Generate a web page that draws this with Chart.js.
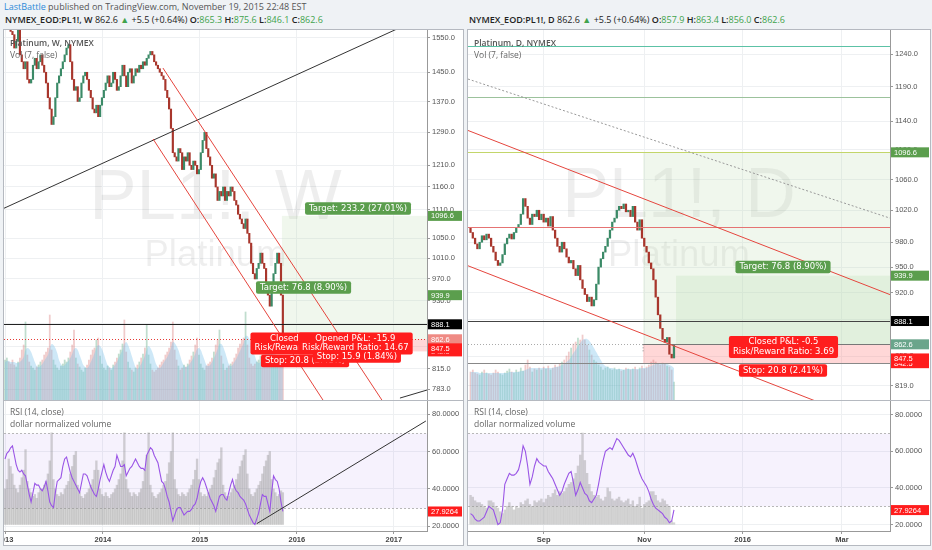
<!DOCTYPE html>
<html lang="en">
<head>
<meta charset="UTF-8">
<title>Platinum PL1! - W / D</title>
<script src="https://cdn.jsdelivr.net/npm/chart.js@4.4.1/dist/chart.umd.min.js"></script>
<style>
    * { margin: 0; padding: 0; box-sizing: border-box; }
    body { width: 932px; height: 550px; background: #eff2f5; position: relative; overflow: hidden; font-family: "Open Sans", sans-serif; }
    .hdr { position: absolute; left: 4px; top: 1px; font-size: 9px; line-height: 12px; color: #555; white-space: nowrap; }
    .hdr .who { color: #2d8ad8; }
    .sym { position: absolute; top: 14px; font-size: 9px; line-height: 12px; font-weight: 600; color: #222; white-space: nowrap; }
    .sym span { font-weight: 400; }
    .sym .g { color: #3fa34d; }
    .panel { position: absolute; top: 29px; height: 517px; border: 1px solid #b5b9c0; background: #fff; }
    .panel canvas { position: absolute; left: 0; }
    .sep { position: absolute; left: 0; right: 0; top: 370px; height: 1px; background: #b5b9c0; }
    .leg { position: absolute; left: 6px; font-size: 8.5px; line-height: 11px; color: #666; white-space: nowrap; z-index: 2; }
    .leg b { font-weight: 600; color: #555; }
</style>
</head>
<body>
    <div class="hdr"><span class="who">LastBattle</span> published on TradingView.com, November 19, 2015 22:48 EST</div>
    <div class="sym" style="left:5px">NYMEX_EOD:PL1!, W <span>862.6</span> <span class="g">▲</span> <span>+5.5 (+0.64%)</span> O:<span class="g">865.3</span> H:<span class="g">875.6</span> L:<span class="g">846.1</span> C:<span class="g">862.6</span></div>
    <div class="sym" style="left:469px">NYMEX_EOD:PL1!, D <span>862.6</span> <span class="g">▲</span> <span>+5.5 (+0.64%)</span> O:<span class="g">857.9</span> H:<span class="g">863.4</span> L:<span class="g">856.0</span> C:<span class="g">862.6</span></div>

    <div class="panel" style="left:3px; width:461px">
        <canvas id="wPrice" width="459" height="370" style="top:0"></canvas>
        <div class="sep"></div>
        <canvas id="wRsi" width="459" height="144" style="top:371px"></canvas>
        <div class="leg" style="top:7px"><b>Platinum, W, NYMEX</b></div>
        <div class="leg" style="top:19px">Vol (7, false)</div>
        <div class="leg" style="top:376px">RSI (14, close)</div>
        <div class="leg" style="top:388px">dollar normalized volume</div>
    </div>

    <div class="panel" style="left:467px; width:464px">
        <canvas id="dPrice" width="462" height="370" style="top:0"></canvas>
        <div class="sep"></div>
        <canvas id="dRsi" width="462" height="144" style="top:371px"></canvas>
        <div class="leg" style="top:7px"><b>Platinum, D, NYMEX</b></div>
        <div class="leg" style="top:19px">Vol (7, false)</div>
        <div class="leg" style="top:376px">RSI (14, close)</div>
        <div class="leg" style="top:388px">dollar normalized volume</div>
    </div>

<script>
// ---------- weekly (left), bar index = week from Jan 2013 ----------
const weekFirstOpen = 1590;
const weekClose = [
    1610, 1640, 1600, 1570, 1560, 1520, 1540, 1580, 1500, 1480,
    1460, 1480, 1430, 1420, 1430, 1470, 1490, 1460, 1480, 1500,
    1470, 1450, 1420, 1380, 1350, 1310, 1330, 1380, 1420, 1440,
    1460, 1480, 1500, 1520, 1530, 1480, 1430, 1400, 1410, 1370,
    1380, 1420, 1440, 1450, 1430, 1400, 1380, 1350, 1340, 1360,
    1330, 1360, 1380, 1400, 1420, 1440, 1410, 1420, 1450, 1430,
    1400, 1410, 1440, 1470, 1440, 1410, 1450, 1460, 1420, 1440,
    1460, 1450, 1470, 1460, 1480, 1470, 1490, 1500, 1510, 1500,
    1480, 1470, 1460, 1450, 1440, 1430, 1400, 1380, 1350, 1300,
    1240, 1230, 1220, 1250, 1240, 1200, 1230, 1220, 1240, 1210,
    1200, 1220, 1210, 1190, 1200, 1240, 1270, 1290, 1250, 1230,
    1210, 1180, 1190, 1160, 1130, 1150, 1140, 1160, 1130, 1150,
    1140, 1160, 1150, 1130, 1120, 1100, 1090, 1080, 1070, 1090,
    1060, 1040, 1000, 980, 970, 990, 1000, 1020, 1000, 990,
    960, 940, 920, 950, 980, 1000, 1020, 1000, 940, 862.6
];
const weekVolume = [
    40, 42, 38, 36, 40, 35, 33, 38, 42, 50,
    55, 78, 45, 38, 34, 32, 30, 33, 35, 38,
    40, 45, 48, 52, 85, 50, 40, 35, 32, 30,
    34, 36, 40, 38, 42, 48, 55, 70, 42, 36,
    33, 30, 28, 32, 35, 40, 45, 50, 52, 60,
    62, 44, 36, 32, 30, 34, 32, 30, 35, 38,
    42, 46, 50, 56, 80, 48, 38, 32, 30, 28,
    32, 35, 38, 42, 46, 52, 75, 45, 36, 30,
    28, 30, 32, 35, 38, 40, 45, 48, 52, 58,
    78, 50, 40, 34, 30, 32, 35, 33, 36, 40,
    44, 48, 55, 62, 45, 36, 32, 30, 34, 36,
    38, 42, 48, 55, 60, 70, 44, 36, 30, 32,
    34, 36, 38, 42, 46, 52, 56, 60, 62, 88,
    55, 42, 36, 34, 36, 38, 40, 44, 46, 50,
    52, 55, 60, 48, 40, 36, 38, 40, 42, 44
];
// Vol (7) average line
const weekVolMa = [
    38, 39, 39, 38, 38, 38, 37, 37, 38, 40,
    43, 50, 52, 51, 48, 43, 38, 34, 33, 34,
    36, 39, 42, 45, 52, 56, 55, 52, 47, 40,
    36, 34, 35, 37, 39, 42, 46, 51, 52, 50,
    45, 40, 35, 33, 32, 34, 38, 42, 47, 52,
    55, 54, 51, 46, 40, 35, 33, 32, 33, 35,
    38, 42, 46, 50, 56, 58, 55, 50, 44, 38,
    33, 31, 33, 36, 40, 44, 50, 54, 52, 48,
    42, 36, 33, 32, 34, 37, 40, 43, 47, 52,
    58, 57, 54, 50, 44, 38, 34, 33, 34, 36,
    39, 42, 46, 51, 52, 50, 45, 40, 35, 34,
    35, 38, 42, 46, 51, 56, 56, 53, 48, 42,
    36, 34, 35, 38, 41, 45, 49, 53, 57, 64,
    64, 61, 56, 50, 44, 39, 37, 38, 41, 44,
    47, 50, 54, 53, 50, 46, 42, 40, 40, 41
];
const weekRsi = [
    56, 59, 60, 62, 63, 58, 53, 50, 49, 50,
    48, 47, 42, 37, 33, 38, 43, 42, 42, 40,
    39, 41, 44, 39, 33, 31, 30, 38, 44, 45,
    46, 52, 56, 57, 53, 49, 46, 44, 42, 40,
    38, 43, 48, 48, 47, 44, 41, 39, 37, 36,
    40, 45, 49, 53, 49, 46, 44, 47, 50, 52,
    58, 55, 52, 52, 53, 47, 49, 51, 52, 54,
    56, 54, 52, 51, 51, 50, 58, 60, 62, 61,
    58, 56, 54, 49, 44, 43, 40, 36, 33, 28,
    23, 26, 29, 30, 30, 28, 26, 27, 28, 28,
    29, 31, 32, 35, 40, 44, 46, 44, 41, 38,
    35, 33, 31, 28, 32, 36, 37, 37, 35, 34,
    38, 42, 45, 41, 39, 38, 36, 35, 34, 32,
    29, 26, 24, 22, 21, 24, 27, 32, 37, 36,
    36, 32, 28, 38, 47, 45, 44, 40, 33, 28
];
const weekDollarVol = [
    40, 45, 56, 52, 48, 42, 40, 38, 42, 46,
    50, 61, 44, 40, 38, 36, 37, 35, 38, 40,
    40, 42, 44, 48, 55, 70, 45, 40, 37, 36,
    38, 37, 40, 42, 44, 48, 52, 58, 60, 42,
    38, 36, 35, 37, 38, 40, 42, 45, 50, 55,
    50, 40, 37, 36, 38, 36, 35, 37, 38, 40,
    42, 45, 48, 55, 70, 45, 40, 38, 36, 38,
    37, 36, 38, 40, 44, 50, 58, 70, 42, 38,
    36, 35, 37, 38, 40, 42, 44, 48, 54, 60,
    70, 45, 40, 37, 36, 38, 37, 36, 38, 40,
    42, 45, 50, 56, 45, 38, 36, 37, 36, 38,
    40, 42, 46, 50, 54, 56, 62, 42, 38, 36,
    36, 38, 40, 42, 45, 48, 52, 55, 58, 61,
    48, 40, 37, 36, 38, 40, 42, 44, 48, 52,
    55, 58, 60, 45, 40, 38, 36, 37, 39, 38
];
const weekPriceTicks = [1550, 1450, 1370, 1290, 1210, 1160, 1110, 1050, 1010, 970, 930, 890, 850, 815, 783];
const weekTimeTicks = [0, 52.5, 104.5, 156.5, 208.5];
const weekTimeLabels = ['2013', '2014', '2015', '2016', '2017'];

// ---------- daily (right), bar index = trading day from Jul 17 2015 ----------
const dayFirstOpen = 998;
const dayClose = [
    992, 985, 978, 972, 980, 988, 983, 990, 985, 975,
    968, 958, 952, 955, 965, 978, 985, 990, 984, 992,
    998, 1002, 1015, 1035, 1025, 1010, 1002, 1015, 1012, 1020,
    1008, 1015, 1005, 1010, 1000, 1012, 995, 985, 975, 968,
    980, 972, 962, 955, 958, 948, 940, 952, 935, 925,
    918, 910, 915, 905, 912, 930, 950, 960, 968, 975,
    985, 995, 1005, 1010, 1020, 1025, 1022, 1028, 1018, 1020,
    1012, 1025, 1005, 995, 1008, 985, 975, 968, 955, 948,
    935, 915, 895, 880, 868, 865, 870, 852, 848, 862.6
];
const dayVolume = [
    28, 30, 27, 26, 25, 28, 30, 27, 26, 25,
    27, 30, 28, 26, 25, 27, 29, 31, 28, 27,
    30, 28, 32, 29, 35, 40, 33, 28, 31, 30,
    32, 30, 33, 31, 34, 30, 32, 35, 33, 36,
    38, 40, 44, 48, 52, 56, 58, 62, 60, 65,
    60, 55, 50, 45, 40, 38, 35, 33, 30, 32,
    33, 31, 30, 32, 30, 31, 29, 30, 32, 31,
    30, 31, 33, 30, 32, 34, 31, 33, 35, 38,
    40, 38, 36, 35, 37, 36, 34, 33, 30, 18
];
const dayVolMa = [
    28, 28, 28, 28, 27, 27, 27, 27, 27, 27,
    27, 27, 27, 27, 27, 27, 27, 28, 28, 28,
    28, 28, 29, 29, 30, 31, 32, 32, 32, 32,
    32, 32, 32, 32, 32, 32, 32, 33, 33, 34,
    35, 36, 38, 40, 43, 47, 50, 54, 57, 60,
    61, 61, 59, 56, 52, 48, 44, 40, 36, 34,
    33, 32, 32, 31, 31, 31, 31, 30, 31, 31,
    31, 31, 31, 31, 31, 32, 32, 32, 33, 34,
    35, 36, 36, 36, 36, 36, 36, 35, 34, 32
];
const dayRsi = [
    26, 25, 23, 22, 22, 23, 24, 27, 30, 29,
    28, 24, 20, 21, 28, 42, 45, 48, 47, 47,
    48, 50, 55, 63, 60, 52, 42, 46, 52, 56,
    54, 53, 52, 52, 49, 47, 45, 42, 39, 36,
    38, 42, 45, 48, 49, 43, 36, 39, 43, 40,
    37, 36, 33, 32, 34, 36, 42, 49, 55, 60,
    61, 62, 61, 64, 67, 66, 64, 62, 60, 58,
    57, 59, 56, 52, 48, 45, 43, 41, 38, 34,
    31, 29, 28, 27, 26, 24, 23, 21, 22, 28
];
const dayDollarVol = [
    36, 35, 33, 32, 32, 31, 30, 29, 33, 33,
    32, 30, 29, 27, 26, 28, 30, 32, 30, 28,
    30, 29, 32, 31, 33, 34, 31, 30, 33, 32,
    33, 34, 32, 34, 36, 35, 37, 39, 36, 38,
    37, 38, 40, 42, 43, 45, 48, 52, 58, 70,
    55, 48, 42, 38, 36, 35, 36, 34, 33, 35,
    40, 38, 34, 33, 34, 35, 33, 32, 33, 34,
    31, 33, 30, 31, 35, 29, 31, 32, 33, 38,
    38, 36, 33, 32, 34, 33, 31, 30, 22, 21
];
const dayPriceTicks = [1240, 1190, 1140, 1100, 1060, 1020, 980, 950, 920, 890, 850, 819];
const dayTimeTicks = [32, 76, 119, 162.5];
const dayTimeLabels = ['Sep', 'Nov', '2016', 'Mar'];

const rsiTicks = [20, 40, 60, 80];
const rsiLast = 27.9264;

// position tool levels
const entryPrice = 862.6;
const avgPrice = 888.1;
const targetBig = 1096.6;
const targetSmall = 939.9;
const stopNear = 847.5;
const stopFar = 842.5;

// drawings, endpoints as [bar index, price]
const weekBlackLines = [[[-0.54, 1113], [226.3, 1620]], [[211.8, 769.4], [226.3, 781.5]]];
const weekRedLines = [[[84.7, 1462], [202.1, 766.5]], [[79.4, 1273.5], [170.5, 766.5]]];
const weekRsiLine = [[134.96, 21.4], [225.7, 76.3]];
const dayRedLines = [[[-1.1, 1127], [183.5, 917.9]], [[-1.1, 951.6], [183.5, 775]]];
const dayGreyDotted = [[-1.1, 1201.8], [183.5, 1010]];
const dayLevels = [1252.5, 1175.1, 999.1];

const UP = '#3b8a67', DOWN = '#a8362c';
const AXIS_FONT = { family: 'Liberation Sans', size: 7.5 };

function candles(firstOpen, closes) {
    const pts = [], colors = [], volColors = [];
    closes.forEach((c, i) => {
        const o = i ? closes[i - 1] : firstOpen;
        pts.push({ x: i, y: [o, c] });
        colors.push(c >= o ? UP : DOWN);
        volColors.push(c >= o ? 'rgba(59,150,103,0.32)' : 'rgba(200,70,70,0.28)');
    });
    return { pts, colors, volColors };
}

function P(chart, xv, yv) {
    return [chart.scales.x.getPixelForValue(xv), chart.scales.y.getPixelForValue(yv)];
}

function drawLabel(ctx, cx, cy, lines, bg) {
    ctx.font = '8.5px "DejaVu Sans"';
    const w = Math.max(...lines.map(l => ctx.measureText(l).width)) + 8;
    const lh = 9.5, h = lines.length * lh + 3;
    ctx.fillStyle = bg;
    ctx.beginPath();
    ctx.roundRect(cx - w / 2, cy - h / 2, w, h, 2);
    ctx.fill();
    ctx.fillStyle = '#fff';
    ctx.textAlign = 'center';
    ctx.textBaseline = 'middle';
    lines.forEach((l, i) => ctx.fillText(l, cx, cy - h / 2 + 1.5 + lh * (i + 0.5)));
}

function overlay(cfg) {
    return {
        id: 'overlay',
        beforeDatasetsDraw(chart) {
            const { ctx, chartArea: a } = chart;
            ctx.save();
            ctx.beginPath();
            ctx.rect(a.left, a.top, a.width, a.height);
            ctx.clip();
            (cfg.marks || []).forEach(m => {
                ctx.fillStyle = 'rgba(0,0,0,0.065)';
                ctx.font = m.size + 'px "Liberation Sans"';
                ctx.textAlign = 'center';
                ctx.textBaseline = 'alphabetic';
                ctx.fillText(m.text, (a.left + a.right) / 2, a.top + m.base);
            });
            (cfg.boxes || []).forEach(b => {
                const [x0, y0] = P(chart, b.x0, b.y0);
                const y1 = chart.scales.y.getPixelForValue(b.y1);
                ctx.fillStyle = b.color;
                ctx.fillRect(x0, Math.min(y0, y1), a.right - x0, Math.abs(y1 - y0));
            });
            ctx.restore();
        },
        afterDatasetsDraw(chart) {
            const { ctx, chartArea: a } = chart;
            ctx.save();
            ctx.beginPath();
            ctx.rect(a.left, a.top, a.width, a.height);
            ctx.clip();
            (cfg.levels || []).forEach(l => {
                const yy = Math.round(chart.scales.y.getPixelForValue(l.v)) + 0.5;
                const x0 = l.from == null ? a.left : chart.scales.x.getPixelForValue(l.from);
                ctx.strokeStyle = l.color;
                ctx.lineWidth = l.width || 1;
                ctx.setLineDash(l.dash || []);
                ctx.beginPath();
                ctx.moveTo(x0, yy);
                ctx.lineTo(a.right, yy);
                ctx.stroke();
            });
            (cfg.lines || []).forEach(l => {
                const p0 = P(chart, l.pts[0][0], l.pts[0][1]);
                const p1 = P(chart, l.pts[1][0], l.pts[1][1]);
                ctx.strokeStyle = l.color;
                ctx.lineWidth = l.width || 1;
                ctx.setLineDash(l.dash || []);
                ctx.beginPath();
                ctx.moveTo(p0[0], p0[1]);
                ctx.lineTo(p1[0], p1[1]);
                ctx.stroke();
            });
            ctx.setLineDash([]);
            ctx.restore();
            (cfg.labels || []).forEach(l => {
                const [cx, cy] = P(chart, l.x, l.y);
                drawLabel(ctx, cx, cy, l.text, l.bg);
            });
        },
        afterDraw(chart) {
            const { ctx, chartArea: a } = chart;
            (cfg.tags || []).forEach(t => {
                const yy = chart.scales.y.getPixelForValue(t.v);
                ctx.fillStyle = t.bg;
                ctx.fillRect(a.right + 1, yy - 5, chart.width - a.right - 2, 10);
                ctx.fillStyle = '#fff';
                ctx.font = '7.5px "Liberation Sans"';
                ctx.textAlign = 'left';
                ctx.textBaseline = 'middle';
                ctx.fillText(t.text, a.right + 4, yy + 0.5);
            });
        }
    };
}

function xScale(min, max, ticks, labels, showLabels) {
    return {
        type: 'linear', min, max, offset: false, bounds: 'data',
        afterBuildTicks: s => { s.ticks = ticks.map(v => ({ value: v })); },
        ticks: {
            display: showLabels, autoSkip: false, maxRotation: 0, padding: 1,
            color: '#444', font: { ...AXIS_FONT, weight: 'bold' },
            callback: (v, i) => labels[i]
        },
        grid: { color: '#eef0f2', offset: false, drawTicks: showLabels, tickLength: 3, tickColor: '#999' },
        border: { display: showLabels, color: '#999' },
        afterFit: s => { s.height = showLabels ? 14 : 0; s.paddingLeft = 0; s.paddingRight = 0; }
    };
}

function yScale(type, min, max, ticks, width, digits) {
    return {
        type, position: 'right', min, max, bounds: 'data',
        afterBuildTicks: s => { s.ticks = ticks.map(v => ({ value: v })); },
        ticks: { autoSkip: false, padding: 2, color: '#555', font: AXIS_FONT, callback: v => Number(v).toFixed(digits) },
        grid: { color: '#eef0f2', tickLength: 3, tickColor: '#999' },
        border: { color: '#999' },
        afterFit: s => { s.width = width; s.paddingTop = 0; s.paddingBottom = 0; }
    };
}

function priceChart(id, o) {
    const c = candles(o.firstOpen, o.closes);
    new Chart(document.getElementById(id), {
        type: 'bar',
        data: {
            datasets: [{
                data: c.pts, backgroundColor: c.colors, yAxisID: 'y',
                grouped: false, barThickness: o.barW, minBarLength: 1
            }, {
                type: 'line', yAxisID: 'v',
                data: o.volMa.map((v, i) => ({ x: i, y: v })),
                borderWidth: 0, pointRadius: 0, tension: 0.4,
                fill: 'origin', backgroundColor: 'rgba(125,195,235,0.38)'
            }, {
                data: o.volume.map((v, i) => ({ x: i, y: v })),
                backgroundColor: c.volColors, yAxisID: 'v',
                grouped: false, barThickness: 1.1
            }]
        },
        options: {
            responsive: false, animation: false, events: [],
            layout: { padding: 0 },
            plugins: { legend: { display: false }, tooltip: { enabled: false } },
            scales: {
                x: xScale(o.xMin, o.xMax, o.timeTicks, o.timeLabels, false),
                y: yScale('logarithmic', o.yMin, o.yMax, o.priceTicks, o.axisW, 1),
                v: { type: 'linear', display: false, min: 0, max: 370 }
            }
        },
        plugins: [overlay(o.overlay)]
    });
}

function rsiChart(id, o) {
    new Chart(document.getElementById(id), {
        type: 'bar',
        data: {
            datasets: [{
                type: 'line',
                data: o.rsi.map((v, i) => ({ x: i, y: v })),
                borderColor: '#9a55e6', borderWidth: 1.1, pointRadius: 0, tension: 0
            }, {
                data: o.dollarVol.map((v, i) => ({ x: i, y: [o.base, v] })),
                backgroundColor: 'rgba(150,150,150,0.42)', grouped: false, barThickness: o.barW + 0.2
            }]
        },
        options: {
            responsive: false, animation: false, events: [],
            layout: { padding: 0 },
            plugins: { legend: { display: false }, tooltip: { enabled: false } },
            scales: {
                x: xScale(o.xMin, o.xMax, o.timeTicks, o.timeLabels, true),
                y: yScale('linear', o.yMin, o.yMax, rsiTicks, o.axisW, 4)
            }
        },
        plugins: [{
            id: 'band',
            beforeDatasetsDraw(chart) {
                const { ctx, chartArea: a, scales: { y } } = chart;
                const y70 = Math.round(y.getPixelForValue(70)) + 0.5, y30 = Math.round(y.getPixelForValue(30)) + 0.5;
                ctx.save();
                ctx.fillStyle = 'rgba(160,110,235,0.09)';
                ctx.fillRect(a.left, y70, a.width, y30 - y70);
                ctx.strokeStyle = '#b8b8b8';
                ctx.setLineDash([2, 2]);
                [y70, y30].forEach(yy => { ctx.beginPath(); ctx.moveTo(a.left, yy); ctx.lineTo(a.right, yy); ctx.stroke(); });
                ctx.restore();
            }
        }, overlay(o.overlay)]
    });
}

const GREEN_BOX = 'rgba(185,220,175,0.22)';
const PINK_BOX = 'rgba(255,130,130,0.32)';
const GREEN_TAG = '#5b9e4d';
const RED = '#ff1d1d';

// ---------- left: weekly ----------
const wX = { xMin: -0.54, xMax: 226.3, timeTicks: weekTimeTicks, timeLabels: weekTimeLabels, axisW: 36, barW: 1.5 };
priceChart('wPrice', {
    ...wX, firstOpen: weekFirstOpen, closes: weekClose, volume: weekVolume, volMa: weekVolMa,
    yMin: 766.5, yMax: 1574.3, priceTicks: weekPriceTicks,
    overlay: {
        marks: [{ text: 'PL1!, W', size: 71, base: 189 }, { text: 'Platinum', size: 36.5, base: 236 }],
        boxes: [
            { x0: 148.5, y0: targetBig, y1: entryPrice, color: GREEN_BOX },
            { x0: 148.5, y0: entryPrice, y1: stopFar, color: PINK_BOX }
        ],
        levels: [
            { v: avgPrice, color: '#222' },
            { v: entryPrice, color: '#e53935', dash: [1, 2] }
        ],
        lines: [
            ...weekBlackLines.map(p => ({ pts: p, color: '#333' })),
            ...weekRedLines.map(p => ({ pts: p, color: '#e5453d' }))
        ],
        labels: [
            { x: 189.3, y: 1112.5, text: ['Target: 233.2 (27.01%)'], bg: GREEN_TAG },
            { x: 160.1, y: 953.9, text: ['Target: 76.8 (8.90%)'], bg: GREEN_TAG },
            { x: 160.9, y: 855.5, text: ['Closed P&L: -0.5', 'Risk/Reward Ratio: 3.69'], bg: RED },
            { x: 160.9, y: 826.9, text: ['Stop: 20.8 (2.41%)'], bg: RED },
            { x: 187.9, y: 855.5, text: ['Opened P&L: -15.9', 'Risk/Reward Ratio: 14.67'], bg: RED },
            { x: 188.7, y: 834.2, text: ['Stop: 15.9 (1.84%)'], bg: RED }
        ],
        tags: [
            { v: targetBig, text: '1096.6', bg: GREEN_TAG },
            { v: targetSmall, text: '939.9', bg: GREEN_TAG },
            { v: avgPrice, text: '888.1', bg: '#000' },
            { v: entryPrice, text: '862.6', bg: '#ef8a84' },
            { v: stopFar, text: '842.5', bg: RED },
            { v: stopNear, text: '847.5', bg: RED }
        ]
    }
});
rsiChart('wRsi', {
    ...wX, rsi: weekRsi, dollarVol: weekDollarVol, base: 21, yMin: 17.5, yMax: 87,
    overlay: {
        lines: [{ pts: weekRsiLine, color: '#333' }],
        tags: [{ v: rsiLast, text: String(rsiLast), bg: RED }]
    }
});

// ---------- right: daily ----------
const dX = { xMin: -1.1, xMax: 183.5, timeTicks: dayTimeTicks, timeLabels: dayTimeLabels, axisW: 40, barW: 1.6 };
priceChart('dPrice', {
    ...dX, firstOpen: dayFirstOpen, closes: dayClose, volume: dayVolume, volMa: dayVolMa,
    yMin: 804.6, yMax: 1277.8, priceTicks: dayPriceTicks,
    overlay: {
        marks: [{ text: 'PL1!, D', size: 70, base: 187 }, { text: 'Platinum', size: 36.5, base: 236 }],
        boxes: [
            { x0: 75.5, y0: targetBig, y1: entryPrice, color: GREEN_BOX },
            { x0: 89.9, y0: targetSmall, y1: entryPrice, color: 'rgba(185,220,175,0.25)' },
            { x0: 75.5, y0: entryPrice, y1: stopFar, color: PINK_BOX }
        ],
        levels: [
            { v: dayLevels[0], color: '#5cc2a6' },
            { v: dayLevels[1], color: '#9cc29c' },
            { v: targetBig, color: '#c3d66a' },
            { v: dayLevels[2], color: '#e57373' },
            { v: avgPrice, color: '#444' },
            { v: stopFar, color: '#888' },
            { v: entryPrice, color: '#aaa', dash: [1, 2] },
            { v: entryPrice, from: 75.5, color: '#777' }
        ],
        lines: [
            { pts: dayGreyDotted, color: '#999', dash: [2, 2] },
            ...dayRedLines.map(p => ({ pts: p, color: '#e5453d' })),
            { pts: [[75.5, entryPrice], [75.5, 853]], color: '#888', dash: [1, 2] }
        ],
        labels: [
            { x: 136.7, y: 950.2, text: ['Target: 76.8 (8.90%)'], bg: GREEN_TAG },
            { x: 136.9, y: 859.8, text: ['Closed P&L: -0.5', 'Risk/Reward Ratio: 3.69'], bg: RED },
            { x: 136.7, y: 834.9, text: ['Stop: 20.8 (2.41%)'], bg: RED }
        ],
        tags: [
            { v: targetBig, text: '1096.6', bg: GREEN_TAG },
            { v: targetSmall, text: '939.9', bg: GREEN_TAG },
            { v: avgPrice, text: '888.1', bg: '#000' },
            { v: entryPrice, text: '862.6', bg: '#6aa58b' },
            { v: stopFar, text: '842.5', bg: RED },
            { v: stopNear, text: '847.5', bg: RED }
        ]
    }
});
rsiChart('dRsi', {
    ...dX, rsi: dayRsi, dollarVol: dayDollarVol, base: 20.2, yMin: 16.5, yMax: 87.5,
    overlay: {
        tags: [{ v: rsiLast, text: String(rsiLast), bg: RED }]
    }
});
</script>
</body>
</html>
